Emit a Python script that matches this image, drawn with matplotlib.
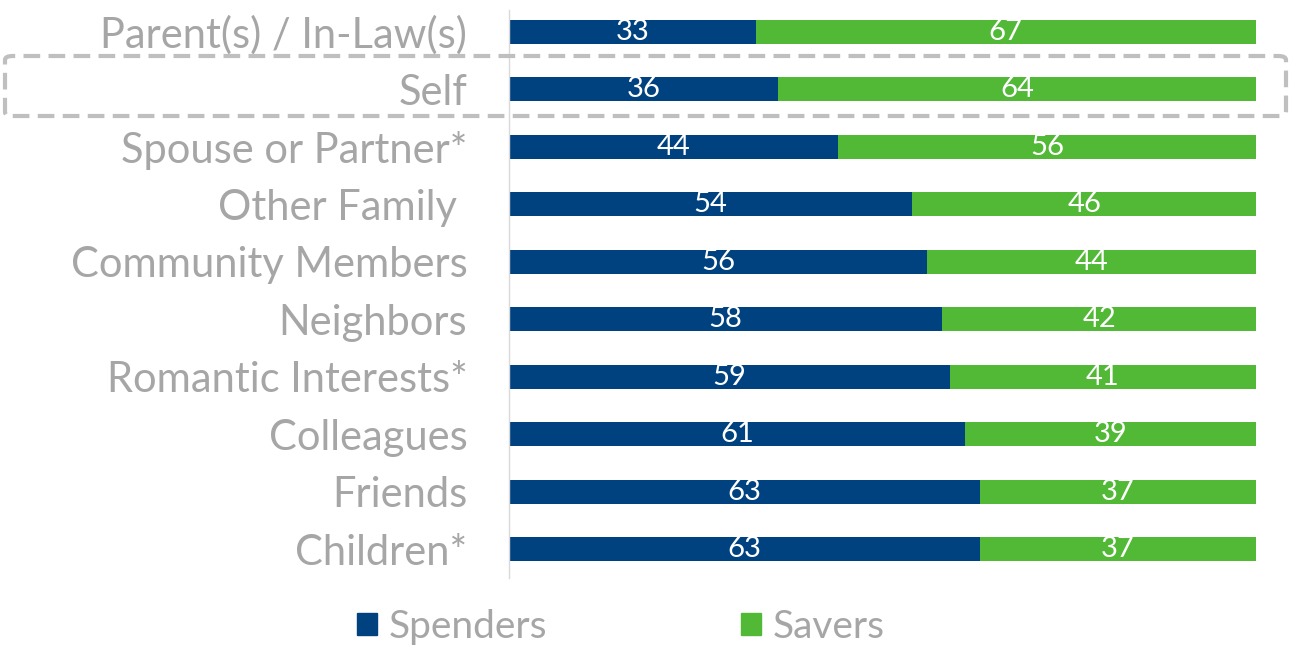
import matplotlib.pyplot as plt
from matplotlib.patches import FancyBboxPatch, Patch

# Datos
categorias = ["Parent(s) / In-Law(s)", "Self", "Spouse or Partner*", "Other Family ",
              "Community Members", "Neighbors", "Romantic Interests*", "Colleagues",
              "Friends", "Children*"]
spenders = [33, 36, 44, 54, 56, 58, 59, 61, 63, 63]
savers = [67, 64, 56, 46, 44, 42, 41, 39, 37, 37]

azul = "#00427F"
verde = "#52B936"
gris = "#A6A6A6"
fuente = ["Lato", "DejaVu Sans"]

W, H = 1291, 646
fig = plt.figure(figsize=(W / 100, H / 100), dpi=100)
ax = fig.add_axes([509 / W, 1 - 578 / H, (1256 - 509) / W, (578 - 10) / H])

y = range(len(categorias))
ax.barh(y, spenders, height=0.42, color=azul)
ax.barh(y, savers, left=spenders, height=0.42, color=verde)

# Valores dentro de las barras
for i, (a, b) in enumerate(zip(spenders, savers)):
    ax.text(a / 2, i, str(a), ha="center", va="center", color="white",
            fontsize=21, family=fuente)
    ax.text(a + b / 2, i, str(b), ha="center", va="center", color="white",
            fontsize=21, family=fuente)

ax.set_xlim(0, 100)
ax.set_ylim(9.5, -0.38)
ax.set_yticks(list(y))
ax.set_yticklabels(categorias, fontsize=30, color=gris, family=fuente)
ax.tick_params(axis="y", length=0, pad=30)
ax.set_xticks([])
for s in ["top", "right", "bottom"]:
    ax.spines[s].set_visible(False)
ax.spines["left"].set_color("#D9D9D9")
ax.spines["left"].set_linewidth(1)

# Caja punteada alrededor de "Self"
caja = FancyBboxPatch((5 / W, 1 - 116 / H), 1281 / W, 60 / H,
                      boxstyle="round,pad=0,rounding_size=0.006",
                      transform=fig.transFigure, fill=False,
                      edgecolor="#BFBFBF", linewidth=3, linestyle=(0, (4, 2)))
fig.patches.append(caja)

# Leyenda
handles = [Patch(color=azul, label="Spenders"), Patch(color=verde, label="Savers")]
leg = fig.legend(handles=handles, loc="center", bbox_to_anchor=(621 / W, 1 - 627 / H),
                 ncol=2, frameon=False, handlelength=0.5, handleheight=0.5,
                 handletextpad=0.3, columnspacing=5, prop={"family": fuente, "size": 28})
for t in leg.get_texts():
    t.set_color(gris)

plt.savefig("out.png", dpi=100)
